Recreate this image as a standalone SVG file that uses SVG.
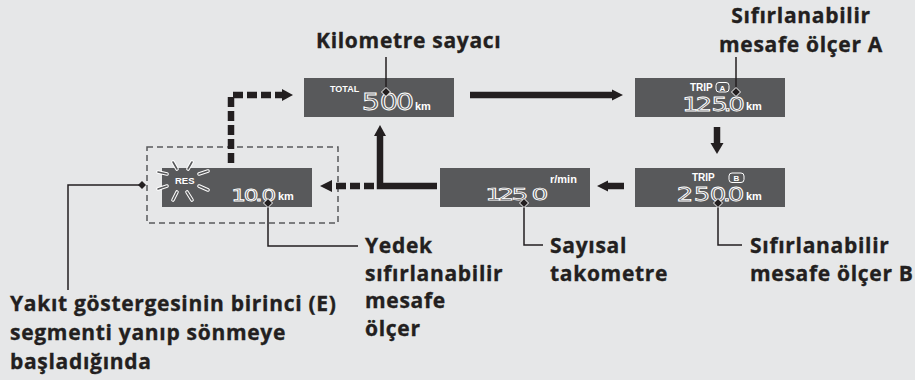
<svg xmlns="http://www.w3.org/2000/svg" width="915" height="380" viewBox="0 0 915 380">
<style>
.lbl{font-family:"Open Sans","Noto Sans",sans-serif;font-weight:700;font-size:21px;fill:#231f20;stroke:#231f20;stroke-width:0.35;letter-spacing:0.7px}
.disp{fill:#58595b}
.small{font-family:"Liberation Sans",Arial,sans-serif;font-weight:700;fill:#fff}
.seg{font-family:"DejaVu Sans",sans-serif;fill:none;stroke:#fff;stroke-width:1;text-anchor:middle;vector-effect:non-scaling-stroke}
.lead{fill:none;stroke:#231f20;stroke-width:1.5}
.arr{fill:none;stroke:#231f20;stroke-width:6.5}
.dash{fill:none;stroke:#231f20;stroke-width:6.5;stroke-dasharray:10 4}
.head{fill:#231f20}
.dia{fill:#231f20;stroke:#fff;stroke-width:1}
.badge{fill:none;stroke:#fff;stroke-width:1}
</style>
<rect width="915" height="380" fill="#e6e7e8"/>

<g id="total">
<rect class="disp" x="304" y="78" width="150" height="39"/>
<text class="small" x="330" y="92" font-size="9">TOTAL</text>
<text class="seg" transform="scale(1.25,1)" x="296.8 311.2 324" y="110" font-size="23">500</text>
<text class="small" x="415" y="110" font-size="11">km</text>
</g>

<g id="tripA">
<rect class="disp" x="635" y="78" width="150" height="39"/>
<text class="small" x="690" y="91" font-size="10">TRIP</text>
<rect class="badge" x="716" y="82.5" width="13" height="9.5" rx="3"/>
<text class="small" x="722.5" y="90.5" font-size="8" text-anchor="middle">A</text>
<text class="seg" transform="scale(1.35,1)" x="511.5 521.5 533 538.9 545.6" y="111" font-size="19">125.0</text>
<text class="small" x="746" y="110" font-size="11">km</text>
</g>

<g id="tripB">
<rect class="disp" x="635" y="168" width="150" height="39"/>
<text class="small" x="692" y="181" font-size="10">TRIP</text>
<rect class="badge" x="729" y="173" width="15" height="9.5" rx="3"/>
<text class="small" x="736.5" y="181" font-size="8" text-anchor="middle">B</text>
<text class="seg" transform="scale(1.3,1)" x="526.9 540 552.3 559.2 566.2" y="201" font-size="20">250.0</text>
<text class="small" x="746" y="200" font-size="11">km</text>
</g>

<g id="tacho">
<rect class="disp" x="440" y="168" width="150" height="39"/>
<text class="small" x="550" y="183" font-size="11">r/min</text>
<text class="seg" transform="scale(1.6,1)" x="308.5 316.25 325 337.5" y="200" font-size="16.5">1250</text>
</g>

<g id="reserve">
<rect x="147" y="147" width="191" height="76" fill="none" stroke="#58595b" stroke-width="1.5" stroke-dasharray="6 4"/>
<rect class="disp" x="162" y="168" width="150" height="39"/>
<path d="M173 162L177 169M192 162L188 169M199 174L208 171M199 186L208 190M187 192L192 200M177 192L173 200M158 189L167 186M158 172L167 174" stroke="#fff" stroke-width="3.6" stroke-linecap="round"/>
<path d="M173 162L177 169M192 162L188 169M199 174L208 171M199 186L208 190M187 192L192 200M177 192L173 200M158 189L167 186M158 172L167 174" stroke="#58595b" stroke-width="1.6" stroke-linecap="round"/>
<text class="small" x="175" y="184" font-size="9.5">RES</text>
<text class="seg" transform="scale(1.4,1)" x="170.4 179.3 185 192.1" y="201" font-size="16.5">10.0</text>
<text class="small" x="278" y="200" font-size="11">km</text>
</g>

<g id="connectors">
<path class="arr" d="M470 95H613"/>
<polygon class="head" points="612,89.5 623,95 612,100.5"/>
<path class="arr" d="M717 127V144"/>
<polygon class="head" points="710.5,143 717,154 723.5,143"/>
<path class="arr" d="M624 186H607"/>
<polygon class="head" points="608,180.5 597,186 608,191.5"/>
<path class="arr" d="M437 186H380V135" stroke-linejoin="miter"/>
<polygon class="head" points="374,136 380,125 386,136"/>
<path class="dash" d="M374 186H331"/>
<polygon class="head" points="332,180 320,186 332,192"/>
<path class="dash" d="M231 163V95H283"/>
<polygon class="head" points="282,89 293,95 282,101"/>

<path class="lead" d="M386 57V92"/>
<polygon class="dia" points="386,87.5 390.5,92 386,96.5 381.5,92"/>
<path class="lead" d="M736 57V92"/>
<polygon class="dia" points="736,87.5 740.5,92 736,96.5 731.5,92"/>
<path class="lead" d="M718 203V245H742"/>
<polygon class="dia" points="718,198.5 722.5,203 718,207.5 713.5,203"/>
<path class="lead" d="M524 203V245H543"/>
<polygon class="dia" points="524,198.5 528.5,203 524,207.5 519.5,203"/>
<path class="lead" d="M268 203V246H358"/>
<polygon class="dia" points="268,198.5 272.5,203 268,207.5 263.5,203"/>
<path class="lead" d="M142 185H68V290"/>
<polygon class="head" points="142,181 146,185 142,189 138,185"/>
</g>

<g id="labels">
<text class="lbl" x="316" y="48">Kilometre sayacı</text>
<text class="lbl" x="801" y="23" text-anchor="middle">Sıfırlanabilir</text>
<text class="lbl" x="801" y="52" text-anchor="middle">mesafe ölçer A</text>
<text class="lbl" x="750" y="253">Sıfırlanabilir</text>
<text class="lbl" x="750" y="281">mesafe ölçer B</text>
<text class="lbl" x="550" y="253">Sayısal</text>
<text class="lbl" x="550" y="281">takometre</text>
<text class="lbl" x="365" y="253">Yedek</text>
<text class="lbl" x="365" y="281">sıfırlanabilir</text>
<text class="lbl" x="365" y="308">mesafe</text>
<text class="lbl" x="365" y="336">ölçer</text>
<text class="lbl" x="10" y="311">Yakıt göstergesinin birinci (E)</text>
<text class="lbl" x="10" y="340">segmenti yanıp sönmeye</text>
<text class="lbl" x="10" y="369">başladığında</text>
</g>
</svg>
